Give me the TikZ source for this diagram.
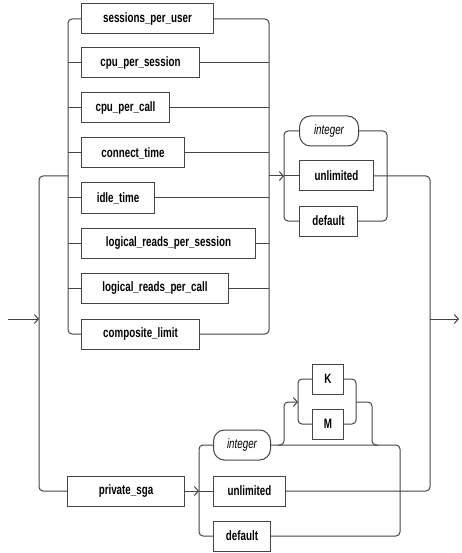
\documentclass[tikz,border=0pt]{standalone}
\usepackage{fontspec}
\newfontfamily\rrfont{Liberation Sans}[FakeStretch=0.72]
\usetikzlibrary{arrows.meta}
\definecolor{ln}{HTML}{454545}
\begin{document}
\begin{tikzpicture}[x=1pt,y=-1pt,line width=1pt,
  box/.style={draw=ln,line width=1pt,anchor=west,minimum height=30pt,inner sep=0pt,
    font=\rrfont\fontsize{13.6}{15}\selectfont\bfseries},
  varbox/.style={draw=ln,line width=1pt,anchor=west,minimum height=30pt,inner sep=0pt,
    rounded corners=11pt,font=\rrfont\fontsize{13.6}{15}\selectfont\itshape},
  ln/.style={draw=ln},
  rc/.style={draw=ln,rounded corners=4pt},
  arr/.style={draw=ln,-{Straight Barb[length=4pt,width=9pt,line width=1pt]}}]
\useasboundingbox (0,0) rectangle (462,553);
% first choice
\node[box,minimum width=132pt] (spu) at (81,19) {sessions\_per\_user};
\node[box,minimum width=118pt] (cps) at (81,63) {cpu\_per\_session};
\node[box,minimum width=88pt] (cpc) at (81,108) {cpu\_per\_call};
\node[box,minimum width=103pt] (ct) at (81,153) {connect\_time};
\node[box,minimum width=73pt] (it) at (81,198) {idle\_time};
\node[box,minimum width=174pt] (lrps) at (81,243) {logical\_reads\_per\_session};
\node[box,minimum width=147pt] (lrpc) at (81,288) {logical\_reads\_per\_call};
\node[box,minimum width=118pt] (cl) at (81,334) {composite\_limit};
% second choice
\node[varbox,minimum width=59pt] (int1) at (299,131) {integer};
\node[box,minimum width=74pt] (unl1) at (299,176) {unlimited};
\node[box,minimum width=58pt] (def1) at (299,221) {default};
% private_sga
\node[box,minimum width=117pt] (psga) at (67,491) {private\_sga};
\node[varbox,minimum width=57pt] (int2) at (213,445) {integer};
\node[box,minimum width=72pt] (unl2) at (213,491) {unlimited};
\node[box,minimum width=57pt] (def2) at (213,536) {default};
\node[box,minimum width=31pt] (K) at (312,379) {K};
\node[box,minimum width=31pt] (M) at (312,424) {M};
% coordinates
\coordinate (in) at (8,319);
\coordinate (out) at (459,319);
\coordinate (V0) at (39,0);
\coordinate (L1) at (68,0);
\coordinate (R1) at (269,0);
\coordinate (L2) at (284,0);
\coordinate (R2) at (387,0);
\coordinate (V1) at (430,0);
\coordinate (L3) at (199,0);
\coordinate (R3) at (400,0);
\coordinate (KL) at (298,0);
\coordinate (KR) at (356,0);
\coordinate (KJ) at (284,402);
\coordinate (KE) at (372,402);
% entry
\draw[arr] (in) -- (in -| V0);
\draw[rc] (unl1.west -| L1) -- (unl1.west -| V0) -- (psga.west -| V0) -- (psga.west);
% first choice buses
\draw[rc] (spu.west) -- (spu.west -| L1) -- (cl.west -| L1) -- (cl.west);
\foreach \n in {cps,cpc,ct,it,lrps,lrpc} \draw[ln] (\n.west) -- (\n.west -| L1);
\draw[rc] (spu.east) -- (spu.east -| R1) -- (cl.east -| R1) -- (cl.east);
\foreach \n in {cps,cpc,ct,it,lrps,lrpc} \draw[ln] (\n.east) -- (\n.east -| R1);
\draw[arr] (unl1.west -| R1) -- (unl1.west -| L2);
% second choice buses
\draw[rc] (int1.west) -- (int1.west -| L2) -- (def1.west -| L2) -- (def1.west);
\draw[ln] (unl1.west -| L2) -- (unl1.west);
\draw[rc] (int1.east) -- (int1.east -| R2) -- (def1.east -| R2) -- (def1.east);
% right main vertical
\draw[rc] (unl1.east) -- (unl1.east -| V1) -- (unl2.east -| V1) -- (unl2.east);
\draw[arr] (out -| V1) -- (out);
% private_sga choice
\draw[arr] (psga.east) -- (psga.east -| L3);
\draw[ln] (psga.east -| L3) -- (unl2.west);
\draw[rc] (int2.west) -- (int2.west -| L3) -- (def2.west -| L3) -- (def2.west);
\draw[rc] (int2.east) -- (int2.east -| R3) -- (def2.east -| R3) -- (def2.east);
% K / M
\draw[rc,arr] ([xshift=-6pt]int2.east -| KJ) -- (int2.east -| KJ) -- (KJ) -- (KJ -| KL);
\draw[rc] (K.west) -- (K.west -| KL) -- (M.west -| KL) -- (M.west);
\draw[rc] (K.east) -- (K.east -| KR) -- (M.east -| KR) -- (M.east);
\draw[rc] (KJ -| KR) -- (KE) -- (int2.east -| KE) -- ([xshift=6pt]int2.east -| KE);
\end{tikzpicture}
\end{document}
